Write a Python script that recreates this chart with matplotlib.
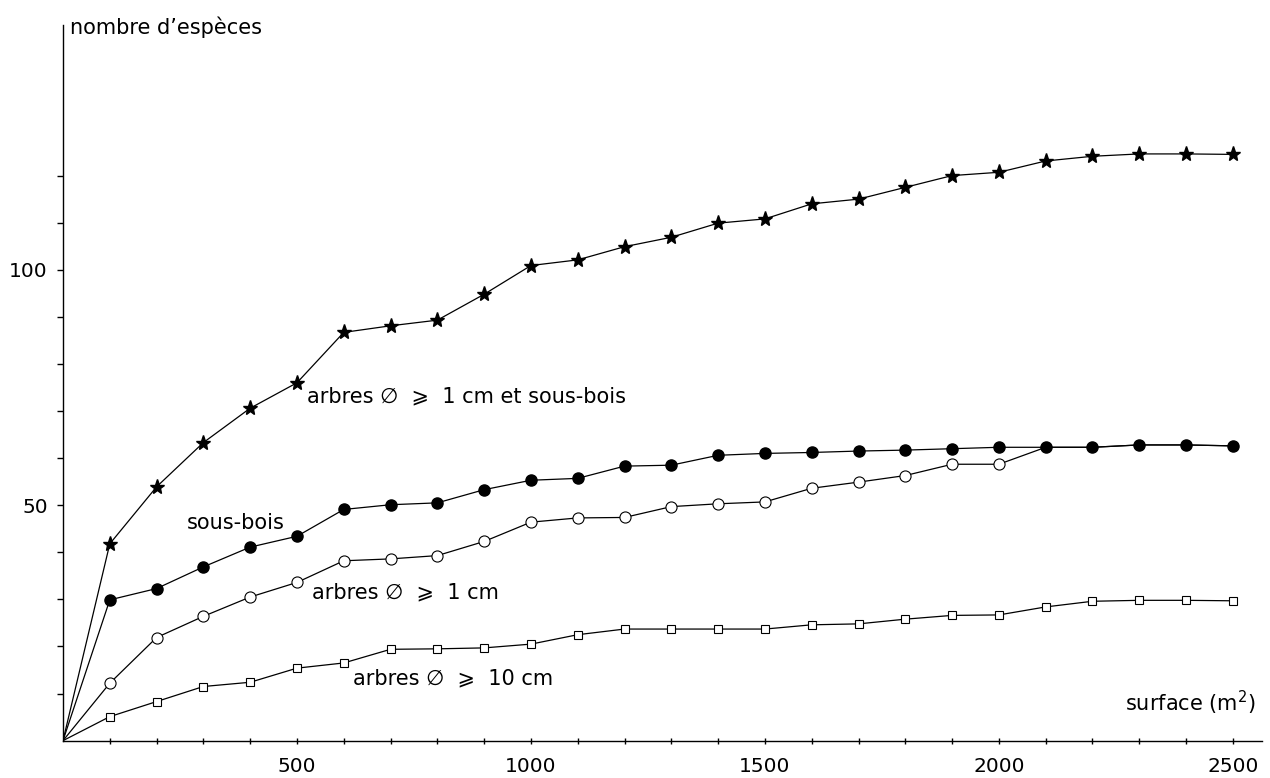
import matplotlib.pyplot as plt

# surfaces (m2)
surface = [0, 100, 200, 300, 400, 500, 600, 700, 800, 900, 1000, 1100, 1200, 1300,
           1400, 1500, 1600, 1700, 1800, 1900, 2000, 2100, 2200, 2300, 2400, 2500]

# nombre d'espèces
arbres_sous_bois = [0, 41.8, 53.9, 63.3, 70.6, 76.0, 86.7, 88.1, 89.3, 94.8, 100.9, 102.1,
                    104.9, 106.9, 109.9, 110.8, 114.0, 115.0, 117.5, 120.0, 120.7, 123.1,
                    124.1, 124.6, 124.6, 124.5]
sous_bois = [0, 29.9, 32.3, 36.9, 41.1, 43.4, 49.1, 50.1, 50.5, 53.3, 55.3, 55.7, 58.3,
             58.5, 60.6, 61.0, 61.2, 61.5, 61.7, 62.0, 62.3, 62.3, 62.3, 62.8, 62.8, 62.6]
arbres_1cm = [0, 12.2, 21.9, 26.4, 30.5, 33.6, 38.2, 38.6, 39.3, 42.3, 46.4, 47.3, 47.4,
              49.7, 50.3, 50.7, 53.6, 54.9, 56.3, 58.7, 58.7, 62.3, 62.3, 62.8, 62.8, 62.6]
arbres_10cm = [0, 5.1, 8.3, 11.5, 12.4, 15.4, 16.5, 19.4, 19.5, 19.7, 20.5, 22.5, 23.7,
               23.7, 23.7, 23.7, 24.6, 24.8, 25.8, 26.6, 26.7, 28.4, 29.6, 29.8, 29.8, 29.7]

plt.rcParams['font.family'] = ['DejaVu Sans']

fig = plt.figure(figsize=(12.7, 7.78), dpi=100)
ax = fig.add_axes([0.0496, 0.048, 0.944, 0.92])

lw = 0.9
ax.plot(surface, arbres_10cm, color='black', lw=lw, marker='s', ms=5.5,
        mfc='white', mec='black', mew=0.8, markevery=list(range(1, 26)))
ax.plot(surface, arbres_1cm, color='black', lw=lw, marker='o', ms=8,
        mfc='white', mec='black', mew=0.8, markevery=list(range(1, 21)))
ax.plot(surface, sous_bois, color='black', lw=lw, marker='o', ms=8,
        mfc='black', mec='black', markevery=list(range(1, 26)))
ax.plot(surface, arbres_sous_bois, color='black', lw=lw, marker='*', ms=11,
        mfc='black', mec='black', markevery=list(range(1, 26)))

ax.set_xlim(0, 2562)
ax.set_ylim(0, 152)
for s in ['top', 'right']:
    ax.spines[s].set_visible(False)
ax.spines['left'].set_linewidth(1.0)
ax.spines['bottom'].set_linewidth(1.0)

ax.set_xticks([500, 1000, 1500, 2000, 2500])
ax.set_xticks(range(100, 2600, 100), minor=True)
ax.set_yticks([50, 100])
ax.set_yticks([10, 20, 30, 40, 60, 70, 80, 90, 110, 120], minor=True)
ax.tick_params(axis='x', which='both', direction='inout', length=4, width=1, labelsize=14.5, pad=10)
ax.tick_params(axis='y', which='both', direction='out', length=4, width=1, labelsize=14.5, pad=7)

ax.text(15, 151.6, 'nombre d’espèces', fontsize=15, va='center', ha='left')
ax.text(2269, 8.0, 'surface (m$\\mathregular{^2}$)', fontsize=15, va='center', ha='left')
ax.text(521, 73.1, 'arbres ∅  ⩾  1 cm et sous-bois', fontsize=15, va='center', ha='left')
ax.text(265, 46.3, 'sous-bois', fontsize=15, va='center', ha='left')
ax.text(532, 31.4, 'arbres ∅  ⩾  1 cm', fontsize=15, va='center', ha='left')
ax.text(620, 13.3, 'arbres ∅  ⩾  10 cm', fontsize=15, va='center', ha='left')

fig.savefig('out.png', dpi=100)
